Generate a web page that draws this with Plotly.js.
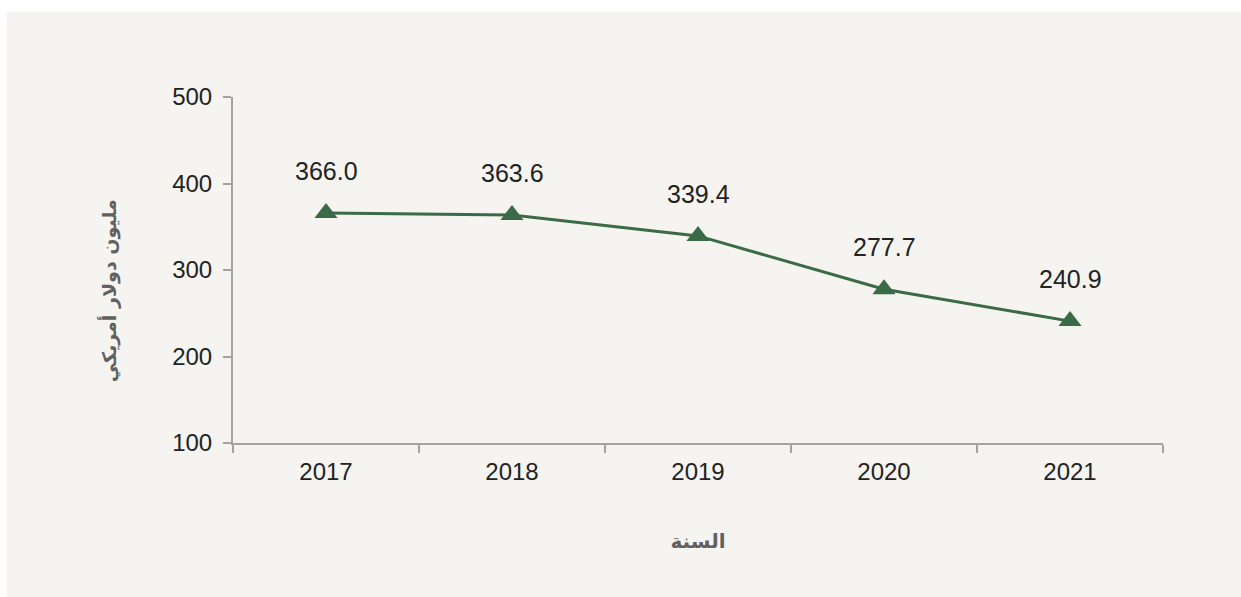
<!DOCTYPE html>
<html>
<head>
<meta charset="utf-8">
<script src="https://cdn.plot.ly/plotly-3.0.1.min.js"></script>
<style>
html,body{margin:0;padding:0;background:#ffffff;}
#chart{position:absolute;left:7px;top:12px;width:1234px;height:585px;}
</style>
</head>
<body>
<div id="chart"></div>
<script>
const years = ["2017", "2018", "2019", "2020", "2021"];
const values = [366.0, 363.6, 339.4, 277.7, 240.9];
const labels = ["366.0", "363.6", "339.4", "277.7", "240.9"];
const yTitle = "مليون دولار أمريكي";
const xTitle = "السنة";

const green = "#3b6a47";
const axisGray = "#a3a3a3";
const numFont = {family: "Liberation Sans, Arial, sans-serif", size: 24, color: "#222222"};
const arFont = {family: "DejaVu Sans, sans-serif", size: 19, weight: "bold", color: "#616161"};

const trace = {
  x: years, y: values, type: "scatter", mode: "lines+markers",
  line: {color: green, width: 3},
  marker: {symbol: "triangle-up", size: 20, color: green},
  hoverinfo: "x+y"
};

const annotations = years.map((yr, i) => ({
  xref: "x", yref: "y",
  x: i, y: values[i], text: labels[i], showarrow: false,
  yshift: 42, font: {family: "Liberation Sans, Arial, sans-serif", size: 25, color: "#222222"}
}));
annotations.push({
  xref: "paper", yref: "paper", x: -0.1333, y: 0.439,
  xanchor: "center", yanchor: "middle", textangle: -90,
  text: yTitle, showarrow: false, font: arFont
});

const layout = {
  width: 1234, height: 585,
  margin: {l: 226, r: 78, t: 85, b: 154},
  paper_bgcolor: "#f5f4f0", plot_bgcolor: "#f5f4f0",
  showlegend: false,
  xaxis: {
    type: "category", range: [-0.5, 4.5], tickson: "boundaries",
    showline: true, linecolor: axisGray, linewidth: 2,
    ticks: "outside", ticklen: 8, tickwidth: 2, tickcolor: axisGray,
    ticklabelstandoff: 6,
    showgrid: false, zeroline: false, tickfont: numFont,
    title: {text: xTitle, font: {family: arFont.family, size: 20, weight: "bold", color: "#616161"}, standoff: 50}
  },
  yaxis: {
    range: [100, 500], tickvals: [100, 200, 300, 400, 500],
    showline: true, linecolor: axisGray, linewidth: 2,
    ticks: "outside", ticklen: 8, tickwidth: 2, tickcolor: axisGray,
    ticklabelstandoff: 6,
    showgrid: false, zeroline: false, tickfont: numFont
  },
  annotations: annotations
};

Plotly.newPlot("chart", [trace], layout, {displayModeBar: false});
</script>
</body>
</html>
